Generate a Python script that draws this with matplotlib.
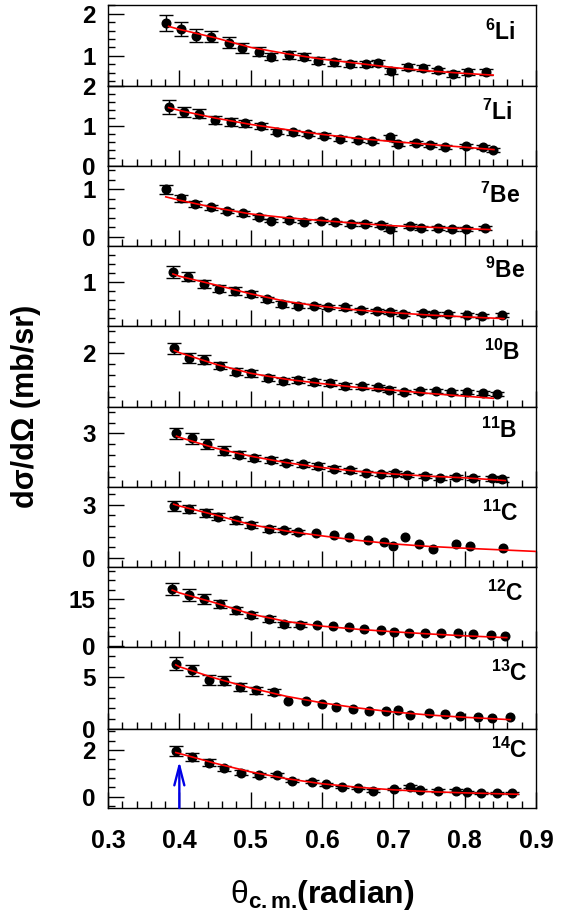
import matplotlib
matplotlib.use("Agg")
import matplotlib.pyplot as plt
from matplotlib.ticker import FixedLocator, MultipleLocator, NullFormatter
import numpy as np

plt.rcParams["font.family"] = ["Liberation Sans", "DejaVu Sans"]
plt.rcParams["mathtext.fontset"] = "custom"
plt.rcParams["mathtext.rm"] = "Liberation Sans"
plt.rcParams["mathtext.bf"] = "Liberation Sans:bold"
plt.rcParams["mathtext.it"] = "Liberation Sans:italic"

# ---------------- data: angular distributions (theta in rad, dsigma/dOmega in mb/sr)
theta_li6 = [0.382, 0.403, 0.424, 0.445, 0.469, 0.488, 0.512, 0.529, 0.554, 0.575, 0.595,
             0.617, 0.639, 0.662, 0.679, 0.697, 0.721, 0.742, 0.763, 0.783, 0.804, 0.830]
xs_li6 = [1.77, 1.64, 1.48, 1.45, 1.31, 1.18, 1.10, 0.98, 1.02, 0.98, 0.88,
          0.84, 0.80, 0.80, 0.82, 0.63, 0.73, 0.70, 0.65, 0.57, 0.61, 0.61]
err_li6 = [0.19, 0.17, 0.15, 0.13, 0.13, 0.12, 0.10, 0.09, 0.09, 0.08, 0.08,
           0.08, 0.07, 0.07, 0.07, 0.07, 0.07, 0.07, 0.07, 0.07, 0.07, 0.07]

theta_li7 = [0.385, 0.407, 0.428, 0.450, 0.472, 0.492, 0.515, 0.537, 0.560, 0.581, 0.603,
             0.625, 0.650, 0.670, 0.695, 0.706, 0.732, 0.751, 0.772, 0.802, 0.826, 0.840]
xs_li7 = [1.47, 1.35, 1.31, 1.16, 1.10, 1.07, 1.00, 0.86, 0.84, 0.80, 0.76,
          0.68, 0.64, 0.62, 0.72, 0.55, 0.58, 0.52, 0.48, 0.51, 0.48, 0.40]
err_li7 = [0.17, 0.12, 0.11, 0.10, 0.09, 0.09, 0.08, 0.07, 0.07, 0.06, 0.06,
           0.06, 0.05, 0.05, 0.06, 0.05, 0.05, 0.05, 0.05, 0.05, 0.05, 0.05]

theta_be7 = [0.381, 0.402, 0.422, 0.444, 0.467, 0.489, 0.512, 0.529, 0.554, 0.575, 0.599,
             0.618, 0.641, 0.660, 0.683, 0.695, 0.723, 0.739, 0.763, 0.782, 0.802, 0.829]
xs_be7 = [1.00, 0.81, 0.69, 0.62, 0.54, 0.49, 0.41, 0.34, 0.35, 0.32, 0.34,
          0.30, 0.26, 0.27, 0.25, 0.16, 0.23, 0.19, 0.18, 0.16, 0.16, 0.19]
err_be7 = [0.09, 0.07, 0.06, 0.05, 0.05, 0.05, 0.04, 0.04, 0.04, 0.04, 0.04,
           0.04, 0.04, 0.04, 0.04, 0.04, 0.04, 0.04, 0.04, 0.04, 0.04, 0.04]

theta_be9 = [0.391, 0.412, 0.434, 0.456, 0.478, 0.500, 0.523, 0.544, 0.567, 0.589, 0.609,
             0.632, 0.655, 0.677, 0.695, 0.713, 0.741, 0.757, 0.777, 0.803, 0.824, 0.853]
xs_be9 = [1.22, 1.11, 0.94, 0.84, 0.79, 0.72, 0.61, 0.50, 0.47, 0.46, 0.44,
          0.43, 0.37, 0.35, 0.33, 0.28, 0.30, 0.28, 0.28, 0.26, 0.24, 0.26]
err_be9 = [0.13, 0.10, 0.09, 0.08, 0.08, 0.07, 0.06, 0.06, 0.05, 0.05, 0.05,
           0.05, 0.05, 0.05, 0.05, 0.05, 0.05, 0.04, 0.04, 0.04, 0.04, 0.04]

theta_b10 = [0.393, 0.414, 0.435, 0.457, 0.479, 0.500, 0.524, 0.545, 0.566, 0.589, 0.611,
             0.632, 0.656, 0.679, 0.694, 0.715, 0.737, 0.760, 0.781, 0.803, 0.826, 0.846]
xs_b10 = [2.09, 1.91, 1.88, 1.77, 1.66, 1.63, 1.54, 1.49, 1.51, 1.47, 1.45,
          1.40, 1.39, 1.37, 1.33, 1.29, 1.30, 1.31, 1.28, 1.29, 1.27, 1.25]
err_b10 = [0.10, 0.09, 0.08, 0.07, 0.06, 0.06, 0.05, 0.05, 0.05, 0.05, 0.05,
           0.05, 0.05, 0.05, 0.04, 0.04, 0.04, 0.04, 0.04, 0.04, 0.04, 0.04]

theta_b11 = [0.396, 0.418, 0.439, 0.462, 0.484, 0.505, 0.529, 0.549, 0.574, 0.595, 0.617,
             0.639, 0.661, 0.683, 0.702, 0.719, 0.745, 0.766, 0.788, 0.811, 0.839, 0.853]
xs_b11 = [3.00, 2.91, 2.80, 2.68, 2.61, 2.55, 2.51, 2.46, 2.43, 2.40, 2.35,
          2.32, 2.27, 2.25, 2.26, 2.23, 2.21, 2.18, 2.20, 2.18, 2.17, 2.15]
err_b11 = [0.11, 0.10, 0.09, 0.08, 0.07, 0.06, 0.06, 0.05, 0.05, 0.05, 0.05,
           0.05, 0.04, 0.04, 0.04, 0.04, 0.04, 0.04, 0.04, 0.04, 0.04, 0.04]

theta_c11 = [0.392, 0.414, 0.437, 0.454, 0.479, 0.500, 0.526, 0.547, 0.567, 0.591, 0.617,
             0.638, 0.664, 0.687, 0.699, 0.716, 0.736, 0.755, 0.788, 0.808, 0.854]
xs_c11 = [2.90, 2.76, 2.53, 2.31, 2.12, 1.84, 1.63, 1.56, 1.46, 1.41, 1.31,
          1.16, 1.03, 0.90, 0.69, 1.16, 0.79, 0.52, 0.79, 0.69, 0.56]
err_c11 = [0.28, 0.24, 0.22, 0.20, 0.18, 0.16, 0.15, 0.12, 0.10, 0.0, 0.0,
           0.0, 0.0, 0.0, 0.0, 0.0, 0.0, 0.0, 0.0, 0.0, 0.0]

theta_c12 = [0.390, 0.413, 0.435, 0.457, 0.480, 0.501, 0.525, 0.547, 0.569, 0.593, 0.615,
             0.638, 0.659, 0.683, 0.701, 0.722, 0.744, 0.767, 0.790, 0.811, 0.837, 0.857]
xs_c12 = [18.2, 16.3, 15.0, 13.3, 11.4, 10.0, 8.5, 6.9, 6.8, 6.8, 6.4,
          6.1, 5.4, 5.0, 4.3, 4.0, 4.0, 4.0, 4.0, 3.8, 3.4, 3.1]
err_c12 = [2.0, 1.8, 1.5, 1.3, 1.1, 1.0, 0.9, 0.8, 0.7, 0.0, 0.0,
           0.0, 0.0, 0.0, 0.0, 0.0, 0.0, 0.0, 0.0, 0.0, 0.0, 0.0]

theta_c13 = [0.395, 0.418, 0.441, 0.462, 0.485, 0.508, 0.533, 0.553, 0.577, 0.600, 0.620,
             0.643, 0.666, 0.690, 0.707, 0.724, 0.750, 0.773, 0.793, 0.819, 0.839, 0.864]
xs_c13 = [6.28, 5.64, 4.74, 4.64, 4.04, 3.71, 3.56, 2.65, 2.72, 2.40, 2.12,
          1.92, 1.76, 1.76, 1.86, 1.38, 1.54, 1.44, 1.21, 1.12, 1.06, 1.15]
err_c13 = [0.64, 0.55, 0.48, 0.42, 0.38, 0.30, 0.25, 0.0, 0.0, 0.0, 0.0,
           0.0, 0.0, 0.0, 0.0, 0.0, 0.0, 0.0, 0.0, 0.0, 0.0, 0.0]

theta_c14 = [0.395, 0.418, 0.441, 0.463, 0.487, 0.512, 0.537, 0.558, 0.586, 0.606, 0.628,
             0.651, 0.672, 0.701, 0.723, 0.737, 0.763, 0.788, 0.803, 0.823, 0.845, 0.867]
xs_c14 = [1.96, 1.69, 1.46, 1.21, 1.03, 0.93, 0.93, 0.69, 0.64, 0.53, 0.40,
          0.36, 0.26, 0.33, 0.43, 0.29, 0.26, 0.26, 0.19, 0.15, 0.15, 0.15]
err_c14 = [0.21, 0.17, 0.14, 0.12, 0.10, 0.10, 0.09, 0.08, 0.07, 0.06, 0.05,
           0.05, 0.05, 0.05, 0.05, 0.05, 0.05, 0.05, 0.05, 0.05, 0.05, 0.05]

# ---------------- fitted curves (red lines)
fit_x_li6 = [0.385, 0.40, 0.45, 0.50, 0.55, 0.60, 0.65, 0.70, 0.75, 0.80, 0.840]
fit_y_li6 = [1.70, 1.63, 1.43, 1.20, 1.05, 0.92, 0.82, 0.72, 0.64, 0.58, 0.54]
fit_x_li7 = [0.385, 0.40, 0.45, 0.50, 0.55, 0.60, 0.65, 0.70, 0.75, 0.80, 0.841]
fit_y_li7 = [1.46, 1.39, 1.20, 1.04, 0.91, 0.79, 0.69, 0.61, 0.54, 0.47, 0.41]
fit_x_be7 = [0.381, 0.40, 0.45, 0.50, 0.55, 0.60, 0.65, 0.70, 0.75, 0.80, 0.836]
fit_y_be7 = [0.84, 0.77, 0.61, 0.48, 0.40, 0.34, 0.28, 0.23, 0.20, 0.17, 0.15]
fit_x_be9 = [0.391, 0.40, 0.45, 0.50, 0.55, 0.60, 0.65, 0.70, 0.75, 0.80, 0.855]
fit_y_be9 = [1.17, 1.12, 0.93, 0.73, 0.56, 0.45, 0.37, 0.31, 0.26, 0.22, 0.18]
fit_x_b10 = [0.393, 0.40, 0.45, 0.50, 0.55, 0.60, 0.65, 0.70, 0.75, 0.80, 0.840]
fit_y_b10 = [2.05, 2.01, 1.80, 1.63, 1.52, 1.44, 1.37, 1.32, 1.26, 1.21, 1.17]
fit_x_b11 = [0.396, 0.40, 0.45, 0.50, 0.55, 0.60, 0.65, 0.70, 0.75, 0.80, 0.857]
fit_y_b11 = [2.95, 2.93, 2.73, 2.58, 2.46, 2.37, 2.30, 2.25, 2.21, 2.18, 2.13]
fit_x_c11 = [0.392, 0.40, 0.45, 0.50, 0.55, 0.60, 0.65, 0.70, 0.75, 0.80, 0.85, 0.90]
fit_y_c11 = [3.02, 2.92, 2.42, 1.88, 1.52, 1.25, 1.00, 0.80, 0.66, 0.56, 0.47, 0.38]
fit_x_c12 = [0.390, 0.40, 0.45, 0.50, 0.55, 0.60, 0.65, 0.70, 0.75, 0.80, 0.859]
fit_y_c12 = [17.9, 17.0, 13.8, 10.2, 7.8, 6.3, 5.3, 4.5, 3.8, 3.2, 2.6]
fit_x_c13 = [0.395, 0.40, 0.45, 0.50, 0.55, 0.60, 0.65, 0.70, 0.75, 0.80, 0.864]
fit_y_c13 = [6.18, 6.00, 4.90, 3.95, 3.15, 2.52, 2.03, 1.64, 1.35, 1.13, 0.90]
fit_x_c14 = [0.395, 0.40, 0.45, 0.50, 0.55, 0.60, 0.65, 0.70, 0.75, 0.80, 0.875]
fit_y_c14 = [1.89, 1.85, 1.43, 1.06, 0.77, 0.55, 0.40, 0.29, 0.21, 0.16, 0.10]

isotope_labels = [r"$^{\mathbf{6}}$Li", r"$^{\mathbf{7}}$Li", r"$^{\mathbf{7}}$Be",
                  r"$^{\mathbf{9}}$Be", r"$^{\mathbf{10}}$B", r"$^{\mathbf{11}}$B",
                  r"$^{\mathbf{11}}$C", r"$^{\mathbf{12}}$C", r"$^{\mathbf{13}}$C",
                  r"$^{\mathbf{14}}$C"]

theta_all = [theta_li6, theta_li7, theta_be7, theta_be9, theta_b10, theta_b11,
             theta_c11, theta_c12, theta_c13, theta_c14]
xs_all = [xs_li6, xs_li7, xs_be7, xs_be9, xs_b10, xs_b11, xs_c11, xs_c12, xs_c13, xs_c14]
err_all = [err_li6, err_li7, err_be7, err_be9, err_b10, err_b11, err_c11, err_c12,
           err_c13, err_c14]
fitx_all = [fit_x_li6, fit_x_li7, fit_x_be7, fit_x_be9, fit_x_b10, fit_x_b11,
            fit_x_c11, fit_x_c12, fit_x_c13, fit_x_c14]
fity_all = [fit_y_li6, fit_y_li7, fit_y_be7, fit_y_be9, fit_y_b10, fit_y_b11,
            fit_y_c11, fit_y_c12, fit_y_c13, fit_y_c14]

# ---------------- per-panel axis settings
y_limits = [(0.28, 2.21), (0.0, 2.0), (-0.196, 1.49), (0.016, 1.79), (1.01, 2.5),
            (2.01, 3.49), (-0.49, 3.98), (-0.4, 25.3), (0.0, 7.9), (-0.49, 2.9)]
y_major = [[1, 2], [0, 1, 2], [0, 1], [1], [2], [3], [0, 3], [0, 15], [0, 5], [0, 2]]
y_minor = [0.2, 0.2, 0.2, 0.2, 0.2, 0.2, 0.6, 3.0, 1.0, 0.4]
label_pos = [(0.951, 0.568), (0.946, 0.575), (0.963, 0.534), (0.974, 0.596),
             (0.963, 0.580), (0.956, 0.609), (0.960, 0.580), (0.970, 0.575),
             (0.979, 0.585), (0.981, 0.629)]

W, H = 571, 915
fig = plt.figure(figsize=(W / 100, H / 100), dpi=100)
edges = [5, 86, 166, 246, 326, 407, 487, 567, 647, 729, 808]
left_px, right_px = 108, 536

axes = []
for i in range(10):
    top, bot = edges[i], edges[i + 1]
    ax = fig.add_axes([left_px / W, 1 - bot / H, (right_px - left_px) / W, (bot - top) / H])
    axes.append(ax)

    x = np.array(theta_all[i])
    y = np.array(xs_all[i])
    e = np.array(err_all[i])
    m = e > 0
    ax.errorbar(x[m], y[m], yerr=e[m], fmt="none", ecolor="black", elinewidth=1.0,
                capsize=5, capthick=1.0, zorder=3)
    ax.plot(x, y, "o", color="black", ms=6.2, zorder=4)
    ax.plot(fitx_all[i], fity_all[i], "-", color="red", lw=1.2, zorder=5)

    ax.set_xlim(0.3, 0.9)
    ax.set_ylim(*y_limits[i])
    ax.xaxis.set_major_locator(MultipleLocator(0.1))
    ax.xaxis.set_minor_locator(MultipleLocator(0.02))
    ax.yaxis.set_major_locator(FixedLocator(y_major[i]))
    ax.yaxis.set_minor_locator(MultipleLocator(y_minor[i]))
    ax.tick_params(which="both", direction="in", top=False, right=False,
                   left=True, bottom=True, width=1.0, colors="black")
    ax.tick_params(which="major", length=11.5)
    ax.tick_params(which="minor", length=5)
    ax.tick_params(axis="y", which="major", labelsize=17.5, pad=9)
    ax.tick_params(axis="x", which="major", labelsize=18, pad=15)
    for lab in ax.get_yticklabels():
        lab.set_fontweight("bold")
    if i < 9:
        ax.xaxis.set_major_formatter(NullFormatter())
    else:
        ax.set_xticks([0.3, 0.4, 0.5, 0.6, 0.7, 0.8, 0.9])
        ax.set_xticklabels(["0.3", "0.4", "0.5", "0.6", "0.7", "0.8", "0.9"],
                           fontweight="bold")
    for s in ax.spines.values():
        s.set_linewidth(1.0)
        s.set_color("black")

    lx, ly = label_pos[i]
    ax.text(lx, ly, isotope_labels[i], transform=ax.transAxes, ha="right",
            va="baseline", fontsize=16.5, fontweight="bold")

# arrow marking the grazing angle in the last panel
axes[9].annotate("", xy=(0.4, 1.52), xytext=(0.4, -0.49),
                 arrowprops=dict(arrowstyle="->,head_length=0.7,head_width=0.18",
                                 color="#0000e6", lw=1.7, mutation_scale=20,
                                 shrinkA=0, shrinkB=0), zorder=6)

fig.text(0.046, 1 - 406.5 / H, "dσ/dΩ (mb/sr)", rotation=90, ha="center",
         va="center", fontsize=22, fontweight="bold")
fig.text(0.564, 1 - 903 / H,
         r"$\mathrm{\theta}_{\mathbf{c.m.}}\!\mathbf{(radian)}$",
         ha="center", va="baseline", fontsize=23)

fig.savefig("out.png", dpi=100)
